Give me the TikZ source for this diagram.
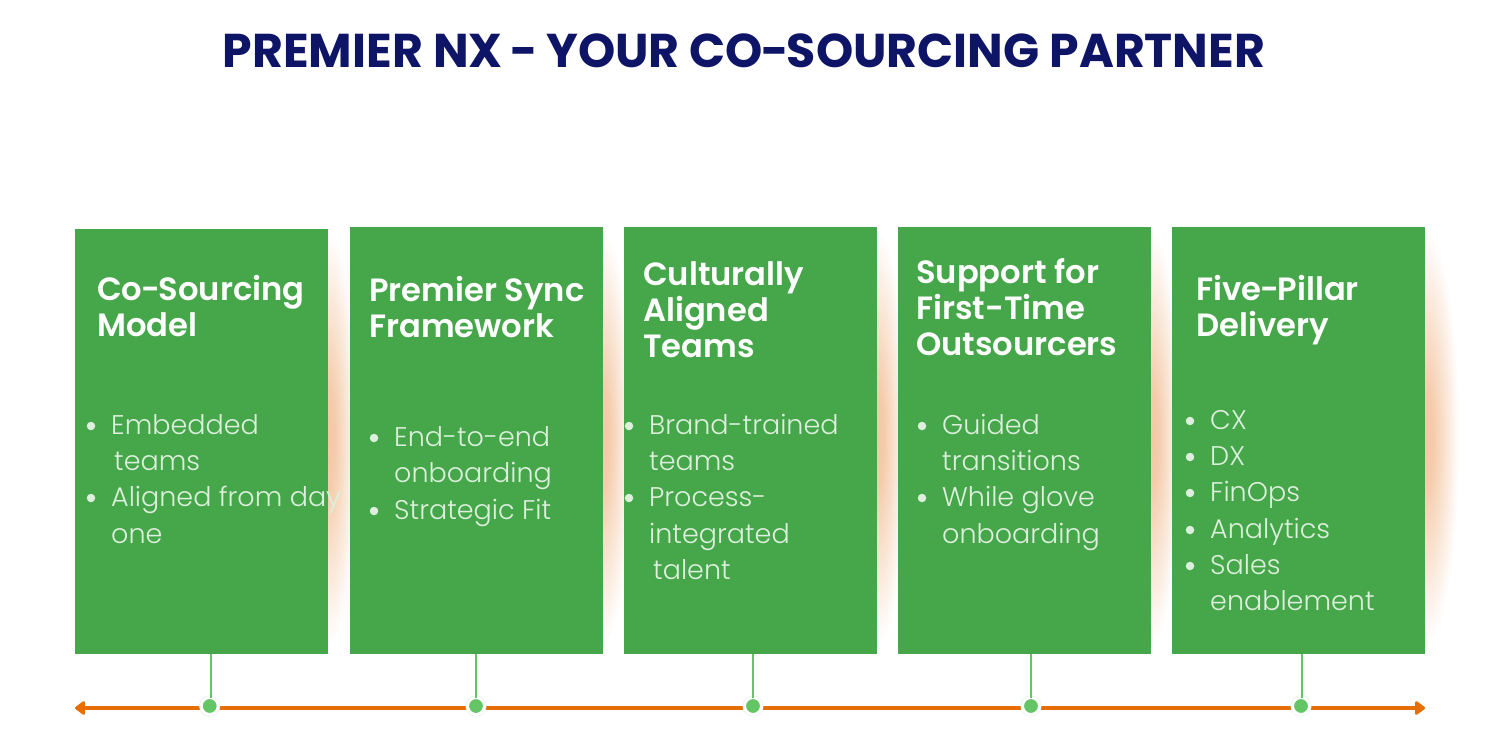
\documentclass[tikz,border=0pt]{standalone}
\usepackage{fontspec}
\usetikzlibrary{arrows.meta}
\setmainfont{Poppins}
\newfontfamily\headfont{Poppins}[UprightFont=* SemiBold,BoldFont=* Bold]
\newfontfamily\bodyfont{Poppins}[UprightFont=* Light]
\newcommand{\nhy}{\kern-.04em-\kern-.04em}
\definecolor{boxgreen}{HTML}{46A64A}
\definecolor{dotgreen}{HTML}{63C563}
\definecolor{palering}{HTML}{DDF2DD}
\definecolor{axisorange}{HTML}{E56E06}
\definecolor{titlenavy}{HTML}{0F1566}
\definecolor{bodytext}{HTML}{DDF0DD}
\definecolor{glow}{HTML}{F3C8A4}
\pgfdeclareradialshading{haloglow}{\pgfpointorigin}{color(0bp)=(glow); color(6bp)=(glow!92!white); color(25bp)=(white); color(50bp)=(white)}
\tikzset{
 x=1pt,y=-1pt,
 card/.style={fill=boxgreen,draw=none,minimum width=253pt,inner sep=0pt,outer sep=0pt},
 head/.style={font=\headfont\fontsize{32.2}{36}\selectfont,text=white,anchor=north west,align=left,inner sep=0pt},
 body/.style={font=\bodyfont\fontsize{27}{36.3}\selectfont,text=bodytext,anchor=base west,inner sep=0pt},
 bull/.style={circle,fill=bodytext,minimum size=8.5pt,inner sep=0pt},
 stem/.style={dotgreen,line width=2.6pt},
 dot/.style={circle,fill=dotgreen,draw=white,line width=3pt,minimum size=17pt,inner sep=0pt,outer sep=0pt,
   preaction={draw=palering,line width=4pt}},
 axis/.style={axisorange,line width=3.8pt},
 halo/.style={shading=haloglow},
}
\begin{document}
\begin{tikzpicture}
\useasboundingbox (0,0) rectangle (1500,742);
\fill[white] (0,0) rectangle (1500,742);
\node[font=\fontsize{47.4}{56}\selectfont\bfseries,text=titlenavy,inner sep=0pt] (title) at (744,51) {PREMIER NX \nhy{} YOUR CO\nhy{}SOURCING PARTNER};
% glow
\shade[halo] (328,438) ellipse [x radius=30,y radius=208];
\shade[halo] (602,438) ellipse [x radius=30,y radius=208];
\shade[halo] (877,438) ellipse [x radius=30,y radius=208];
\shade[halo] (1151,438) ellipse [x radius=30,y radius=208];
\shade[halo] (1425,438) ellipse [x radius=34,y radius=208];
% cards
\node[card,minimum height=425pt,anchor=north west] (c1) at (75,229) {};
\node[card,minimum height=427pt,anchor=north west] (c2) at (350,227) {};
\node[card,minimum height=427pt,anchor=north west] (c3) at (624,227) {};
\node[card,minimum height=427pt,anchor=north west] (c4) at (898,227) {};
\node[card,minimum height=427pt,anchor=north west] (c5) at (1172,227) {};
% headings
\node[head] (h1) at (97,275.5) {Co\nhy{}Sourcing\\Model};
\node[head] (h2) at (369,276.5) {Premier Sync\\Framework};
\node[head] (h3) at (643,261.5) {Culturally\\Aligned\\Teams};
\node[head] (h4) at (916,258.5) {Support for\\First-Time\\Outsourcers};
\node[head] (h5) at (1196,275.5) {Five\nhy{}Pillar\\Delivery};
% bullets 1
\node[bull] (b11) at (91,426) {}; \node[body] (t11) at (111,434) {Embedded};
\node[body] (t12) at (114,470) {teams};
\node[bull] (b12) at (91,498) {}; \node[body] (t13) at (111,506) {Aligned from day};
\node[body] (t14) at (111,543) {one};
% bullets 2
\node[bull] (b21) at (374,438) {}; \node[body] (t21) at (394,446) {End-to-end};
\node[body] (t22) at (394,482) {onboarding};
\node[bull] (b22) at (374,511) {}; \node[body] (t23) at (394,519) {Strategic Fit};
% bullets 3
\node[bull] (b31) at (629,426) {}; \node[body] (t31) at (649,434) {Brand-trained};
\node[body] (t32) at (649,470) {teams};
\node[bull] (b32) at (629,498) {}; \node[body] (t33) at (649,506) {Process-};
\node[body] (t34) at (649,543) {integrated};
\node[body] (t35) at (653,579) {talent};
% bullets 4
\node[bull] (b41) at (922,426) {}; \node[body] (t41) at (942,434) {Guided};
\node[body] (t42) at (942,470) {transitions};
\node[bull] (b42) at (922,498) {}; \node[body] (t43) at (942,506) {While glove};
\node[body] (t44) at (942,543) {onboarding};
% bullets 5
\node[bull] (b51) at (1190,421) {}; \node[body] (t51) at (1210,429) {CX};
\node[bull] (b52) at (1190,457) {}; \node[body] (t52) at (1210,465) {DX};
\node[bull] (b53) at (1190,493) {}; \node[body] (t53) at (1210,501) {FinOps};
\node[bull] (b54) at (1190,530) {}; \node[body] (t54) at (1210,538) {Analytics};
\node[bull] (b55) at (1190,566) {}; \node[body] (t55) at (1210,574) {Sales};
\node[body] (t56) at (1210,610) {enablement};
% axis
\coordinate (al) at (75,708);
\coordinate (ar) at (1425,708);
\draw[axis,{Triangle[length=11pt,width=15.5pt,round]}-{Triangle[length=11pt,width=15.5pt,round]}] (al) -- (ar);
% stems and dots
\node[dot] (d1) at (209.7,706) {};
\node[dot] (d2) at (476,706) {};
\node[dot] (d3) at (753,706) {};
\node[dot] (d4) at (1031,706) {};
\node[dot] (d5) at (1301,706) {};
\coordinate (s1) at (211,654); \coordinate (s2) at (476,654); \coordinate (s3) at (753,654); \coordinate (s4) at (1031,654); \coordinate (s5) at (1302,654);
\draw[stem] (s1) -- (s1 |- d1.north);
\draw[stem] (s2) -- (d2.north);
\draw[stem] (s3) -- (d3.north);
\draw[stem] (s4) -- (d4.north);
\draw[stem] (s5) -- (s5 |- d5.north);
\end{tikzpicture}
\end{document}
